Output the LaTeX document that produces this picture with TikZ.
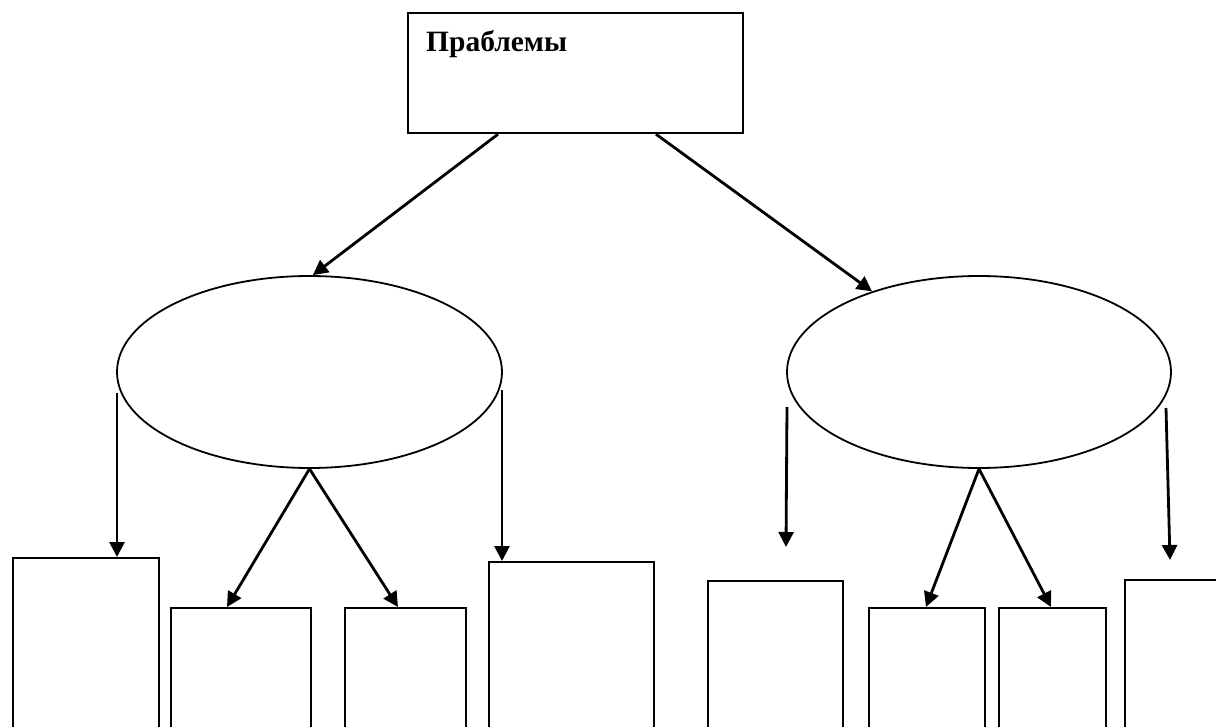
\documentclass[tikz,border=0pt]{standalone}
\usepackage{fontspec}
\setmainfont{Liberation Serif}
\usetikzlibrary{shapes.geometric,arrows.meta,calc}
\begin{document}
\begin{tikzpicture}[x=1pt,y=-1pt,
  box/.style={draw, line width=2.2pt, rectangle, inner sep=0pt, anchor=north west},
  oval/.style={draw, ellipse, line width=1.8pt, inner sep=0pt},
  arr/.style={line width=2.8pt, -{Triangle[length=15pt,width=15pt]}}]
\useasboundingbox (0,0) rectangle (1216,727);
\clip (0,0) rectangle (1216,727);
\fill[white] (0,0) rectangle (1216,727);
% top box
\node[box, minimum width=335pt, minimum height=120pt] (top) at (407,12) {};
\node[anchor=base west, inner sep=0pt, font=\bfseries\fontsize{29.5}{34}\selectfont] (title) at (426,52) {Праблемы};
% ellipses
\node[oval, minimum width=385pt, minimum height=192pt] (ellL) at (309.5,372) {};
\node[oval, minimum width=384pt, minimum height=192pt] (ellR) at (979,372) {};
% bottom boxes
\node[box, minimum width=146pt, minimum height=200pt] (b1) at (12,557) {};
\node[box, minimum width=140pt, minimum height=160pt] (b2) at (170,607) {};
\node[box, minimum width=121pt, minimum height=160pt] (b3) at (344,607) {};
\node[box, minimum width=165pt, minimum height=200pt] (b4) at (488,561) {};
\node[box, minimum width=135pt, minimum height=200pt] (b5) at (707,580) {};
\node[box, minimum width=116pt, minimum height=160pt] (b6) at (868,607) {};
\node[box, minimum width=107pt, minimum height=160pt] (b7) at (998,607) {};
\node[box, minimum width=130pt, minimum height=200pt] (b8) at (1124,579) {};
% arrows from top box
\draw[arr] ($(top.south west)+(91,0)$) -- (ellL.88);
\draw[arr] ($(top.south west)+(249,0)$) -- (ellR.143);
% left ellipse arrows
\coordinate (l1s) at (117,393);
\draw[arr] (l1s) -- (l1s |- b1.north);
\draw[arr] (ellL.south) -- ($(b2.north west)+(57,0)$);
\draw[arr] (ellL.south) -- ($(b3.north west)+(54,0)$);
\coordinate (l4s) at (502,390);
\draw[arr] (l4s) -- (l4s |- b4.north);
% right ellipse arrows
\coordinate (r1s) at (787,407);
\coordinate (r1e) at (786,547);
\draw[arr] (r1s) -- (r1e);
\draw[arr] (ellR.south) -- ($(b6.north west)+(58,0)$);
\draw[arr] (ellR.south) -- ($(b7.north west)+(53,0)$);
\coordinate (r4s) at (1166,408);
\coordinate (r4e) at (1170,560);
\draw[arr] (r4s) -- (r4e);
\end{tikzpicture}
\end{document}
